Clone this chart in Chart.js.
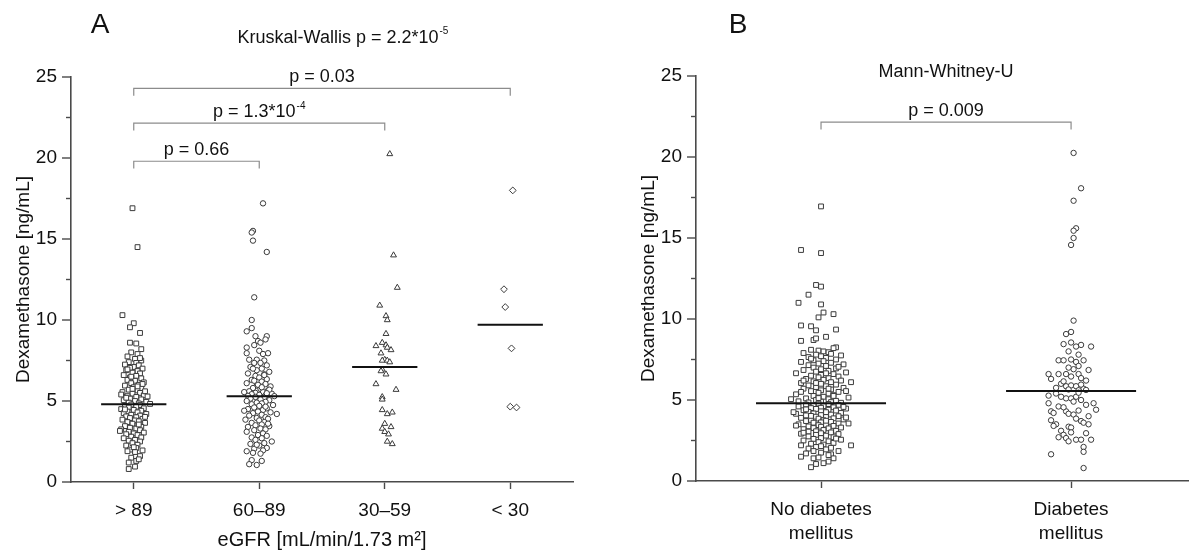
<!DOCTYPE html>
<html><head><meta charset="utf-8">
<script src="https://cdn.jsdelivr.net/npm/chart.js@4.4.1/dist/chart.umd.min.js"></script>
<style>
html,body{margin:0;padding:0;background:#fff;}
body{width:1193px;height:552px;overflow:hidden;position:relative;}
.p{position:absolute;top:0;}
</style></head><body>
<div class="p" style="left:0"><canvas id="cA" width="596" height="552"></canvas></div>
<div class="p" style="left:596px"><canvas id="cB" width="597" height="552"></canvas></div>
<script>
// ---------------- data ----------------
const catsA = ['> 89', '60–89', '30–59', '< 30'];
const catsB = [['No diabetes', 'mellitus'], ['Diabetes', 'mellitus']];
const yTicks = [0, 2.5, 5, 7.5, 10, 12.5, 15, 17.5, 20, 22.5, 25];
const yMax = 25;

// [horizontal jitter (category units), dexamethasone ng/mL]
const egfrGt89 = [
[-0.01,16.9],[0.03,14.5],[-0.09,10.3],[0.0,9.8],[-0.03,9.55],[0.05,9.2],[-0.03,8.6],[0.02,8.55],[0.06,8.2],[-0.02,8.0],
[0.03,7.9],[-0.05,7.75],[0.01,7.6],[0.06,7.5],[-0.04,7.4],[0.02,7.35],[-0.07,7.25],[0.04,7.2],[0.0,7.1],[-0.03,7.05],
[0.07,7.0],[-0.06,6.9],[0.03,6.85],[-0.01,6.75],[0.05,6.7],[-0.08,6.6],[0.02,6.55],[-0.03,6.45],[0.06,6.4],[-0.05,6.3],
[0.01,6.25],[0.08,6.15],[-0.02,6.1],[0.04,6.0],[-0.07,5.95],[0.0,5.85],[0.06,5.8],[-0.04,5.7],[0.03,5.65],[-0.09,5.55],
[0.05,5.5],[-0.01,5.45],[0.08,5.35],[-0.05,5.3],[0.02,5.25],[-0.03,5.15],[0.06,5.1],[-0.08,5.05],[0.01,5.0],[0.1,4.95],
[-0.04,4.9],[0.04,4.85],[0.13,4.82],[-0.06,5.2],[0.09,5.6],[-0.02,6.5],[0.07,6.05],[-0.1,5.4],[0.03,5.9],[-0.05,6.95],
[0.05,7.65],[-0.01,5.75],[0.11,5.28],
[-0.02,4.78],[0.05,4.75],[-0.07,4.7],[0.02,4.65],[-0.04,4.6],[0.08,4.55],[-0.1,4.5],[0.0,4.45],[0.06,4.4],[-0.05,4.35],
[0.03,4.3],[-0.08,4.25],[0.1,4.2],[-0.02,4.15],[0.05,4.1],[-0.06,4.05],[0.02,4.0],[-0.03,3.95],[0.07,3.9],[-0.09,3.85],
[0.01,3.8],[0.04,3.75],[-0.05,3.7],[0.09,3.65],[-0.01,3.6],[0.03,3.5],[-0.07,3.45],[0.06,3.4],[-0.03,3.35],[0.02,3.3],
[-0.1,3.25],[0.05,3.2],[-0.04,3.1],[0.08,3.05],[0.0,3.0],[-0.06,2.95],[0.03,2.9],[-0.02,2.8],[0.06,2.75],[-0.08,2.7],
[0.01,2.6],[-0.04,2.55],[0.05,2.5],[-0.01,2.4],[0.03,2.3],[-0.06,2.25],[0.02,2.1],[-0.03,2.0],[0.07,1.95],[-0.05,1.9],
[0.01,1.85],[0.05,1.6],[-0.02,1.5],[0.02,1.3],[-0.04,1.2],[0.01,0.95],[-0.04,0.8],[0.04,3.55],[-0.07,4.48],[0.09,4.02],
[-0.11,3.15],[0.0,2.15],[0.04,1.4]
];
const egfr60to89 = [
[0.03,17.2],[-0.05,15.5],[-0.06,15.4],[-0.05,14.9],[0.06,14.2],[-0.04,11.4],[-0.06,10.0],[-0.06,9.5],[-0.1,9.3],[-0.03,9.0],
[0.06,9.0],[0.05,8.8],[-0.01,8.7],[0.01,8.6],[-0.04,8.45],[-0.1,8.3],[0.0,8.1],[0.07,7.95],[-0.1,7.95],[0.03,7.9],
[-0.08,7.55],[-0.02,7.55],[0.04,7.5],[0.01,7.35],[-0.04,7.35],[0.06,7.2],[-0.07,7.1],[0.02,7.0],[-0.02,6.9],[0.08,6.8],
[-0.09,6.7],[0.04,6.65],[-0.03,6.55],[0.0,6.45],[0.06,6.35],[-0.06,6.3],[0.02,6.2],[-0.1,6.1],[0.05,6.05],[-0.02,5.95],
[0.09,5.9],[-0.05,5.8],[0.01,5.75],[0.07,5.65],[-0.08,5.6],[0.03,5.55],[-0.03,5.5],[0.1,5.45],[-0.06,5.42],[0.0,5.38],
[0.05,5.35],[-0.09,5.32],[0.12,5.3],[-0.01,6.0],[0.04,6.6],[-0.05,7.0],[0.08,5.7],[-0.12,5.55],[0.02,5.85],[-0.04,6.25],
[0.06,5.48],
[-0.03,5.25],[0.04,5.2],[-0.07,5.15],[0.01,5.1],[0.08,5.05],[-0.1,5.0],[0.05,4.95],[-0.02,4.9],[0.02,4.85],[-0.06,4.8],
[0.11,4.75],[0.0,4.7],[-0.04,4.6],[0.06,4.55],[-0.09,4.5],[0.03,4.45],[-0.01,4.35],[0.09,4.3],[-0.05,4.25],[0.14,4.2],
[0.02,4.15],[-0.08,4.1],[0.05,4.0],[-0.02,3.95],[0.07,3.9],[-0.11,3.85],[0.0,3.8],[0.04,3.7],[-0.06,3.65],[0.02,3.55],
[-0.03,3.5],[0.08,3.45],[-0.09,3.4],[0.01,3.3],[0.05,3.25],[-0.04,3.2],[-0.1,3.1],[0.03,3.0],[-0.01,2.9],[0.06,2.85],
[-0.06,2.75],[0.02,2.7],[-0.03,2.6],[0.1,2.5],[0.04,2.4],[-0.07,2.35],[0.0,2.25],[0.06,2.1],[-0.04,2.05],[0.03,1.95],
[-0.1,1.9],[-0.05,1.8],[0.01,1.75],[-0.06,1.35],[0.02,1.3],[-0.08,1.1],[-0.02,1.05],[0.05,4.65],[-0.12,4.4],[0.07,3.6],
[-0.02,2.3]
];
const egfr30to59 = [
[0.04,20.25],[0.07,14.0],[0.1,12.0],[-0.04,10.9],[0.01,10.25],[0.02,10.0],[0.01,9.15],[-0.02,8.6],[0.01,8.45],[-0.07,8.4],
[0.02,8.3],[0.05,8.15],[-0.03,7.95],[0.0,7.55],[-0.02,7.5],[0.02,7.5],[0.04,7.4],[-0.02,6.95],[-0.03,6.85],[0.01,6.65],
[-0.07,6.05],[0.09,5.7],[-0.02,5.25],[-0.02,5.1],[-0.02,4.45],[0.02,4.2],[0.06,4.3],[0.0,3.6],[0.05,3.4],[-0.02,3.3],
[0.0,3.1],[0.03,2.95],[0.02,2.5],[0.06,2.35]
];
const egfrLt30 = [[0.02,18.0],[-0.05,11.9],[-0.04,10.8],[0.01,8.25],[0.0,4.65],[0.05,4.6]];
const mediansA = [4.8, 5.3, 7.1, 9.7];

const noDiabetes = [
[0.0,16.95],[-0.08,14.26],[0.0,14.07],[-0.02,12.1],[0.0,12.0],[-0.05,11.5],[-0.09,11.0],[0.0,10.9],[-0.01,10.1],[0.01,10.4],
[0.05,10.3],[-0.08,9.6],[-0.04,9.55],[-0.02,9.3],[0.06,9.35],[-0.08,8.65],[-0.03,8.7],[-0.02,8.8],[0.02,8.9],[0.06,8.25],
[0.05,8.2],[-0.04,8.1],[-0.01,8.05],[0.01,8.0],[0.03,7.95],[-0.07,7.9],[0.04,7.85],[-0.02,7.8],[0.08,7.75],[0.0,7.7],
[-0.05,7.65],[0.02,7.6],[0.06,7.5],[-0.03,7.45],[0.01,7.4],[-0.08,7.35],[0.04,7.3],[-0.01,7.25],[0.09,7.2],[-0.05,7.15],
[0.02,7.1],[-0.03,7.0],[0.06,6.95],[0.0,6.9],[-0.07,6.85],[0.03,6.8],[-0.02,6.75],[0.1,6.7],[-0.1,6.65],[0.05,6.6],
[0.0,6.55],[-0.04,6.5],[0.07,6.45],[-0.01,6.4],[0.03,6.35],[-0.06,6.3],[0.01,6.25],[0.08,6.2],[-0.03,6.15],[0.04,6.1],
[-0.08,6.05],[0.0,6.0],[0.06,5.95],[-0.05,5.9],[0.02,5.85],[-0.02,5.8],[0.09,5.75],[-0.07,5.7],[0.04,5.65],[0.0,5.6],
[-0.04,5.55],[0.07,5.5],[-0.01,5.45],[0.03,5.4],[-0.1,5.35],[0.05,5.3],[-0.03,5.25],[0.01,5.2],[0.11,5.15],[-0.06,5.1],
[0.03,5.05],[-0.02,5.0],[0.06,4.95],[-0.09,4.92],[0.0,4.9],[0.04,4.87],[-0.05,4.85],[0.08,4.83],[-0.12,5.05],[0.1,5.55],
[-0.07,6.2],[0.02,6.65],[0.07,7.05],[-0.04,7.55],[0.03,5.7],[-0.02,6.05],[0.05,5.25],[-0.08,5.5],[0.12,6.1],[-0.01,5.12],
[-0.01,4.78],[0.03,4.75],[-0.06,4.72],[0.07,4.7],[-0.03,4.65],[0.01,4.62],[-0.09,4.6],[0.05,4.55],[0.0,4.52],[-0.04,4.5],
[0.1,4.47],[-0.02,4.45],[0.03,4.4],[-0.07,4.37],[0.06,4.35],[0.0,4.3],[-0.05,4.27],[0.02,4.25],[0.08,4.2],[-0.03,4.17],
[-0.1,4.15],[0.04,4.1],[0.0,4.07],[-0.06,4.05],[0.07,4.0],[-0.02,3.97],[0.02,3.95],[-0.08,3.9],[0.05,3.87],[-0.01,3.85],
[0.09,3.8],[-0.04,3.77],[0.01,3.75],[-0.06,3.7],[0.04,3.65],[0.0,3.62],[-0.03,3.6],[0.07,3.55],[-0.09,3.5],[0.02,3.47],
[-0.01,3.45],[0.05,3.4],[-0.05,3.37],[0.0,3.35],[0.08,3.3],[-0.03,3.27],[0.03,3.25],[-0.07,3.2],[0.01,3.15],[0.06,3.1],
[-0.02,3.07],[-0.05,3.05],[0.04,3.0],[0.0,2.95],[-0.08,2.92],[0.07,2.9],[-0.02,2.85],[0.02,2.8],[-0.05,2.75],[0.05,2.7],
[0.0,2.65],[-0.03,2.6],[0.08,2.55],[-0.07,2.5],[0.03,2.45],[-0.01,2.4],[0.05,2.35],[-0.04,2.3],[0.01,2.25],[0.12,2.2],
[-0.08,2.2],[-0.02,2.1],[0.04,2.05],[-0.05,2.0],[0.02,1.95],[0.07,1.85],[-0.03,1.85],[0.0,1.75],[-0.06,1.7],[0.04,1.65],
[-0.08,1.5],[-0.03,1.4],[-0.01,1.45],[0.05,1.4],[0.03,1.2],[-0.02,1.05],[-0.04,0.85],[0.01,1.1],[-0.06,4.42],[0.1,3.92],
[-0.1,3.42],[0.06,2.62],[-0.04,4.02],[0.02,3.72],[0.09,4.57],[-0.07,2.98],[0.11,3.55],[-0.11,4.25],[0.0,2.15],[0.03,1.6]
];
const diabetes = [
[0.01,20.25],[0.04,18.07],[0.01,17.3],[0.02,15.6],[0.01,15.45],[0.01,15.0],[0.0,14.57],[0.01,9.9],[0.0,9.2],[-0.02,9.07],
[-0.03,8.45],[0.0,8.55],[0.02,8.3],[0.04,8.4],[0.08,8.3],[-0.01,8.0],[0.03,7.8],[-0.05,7.45],[-0.03,7.45],[0.0,7.5],
[0.02,7.35],[0.05,7.45],[0.03,7.1],[-0.09,6.6],[-0.08,6.3],[-0.05,6.6],[-0.02,6.6],[0.03,6.6],[0.04,6.35],[0.06,6.2],
[-0.04,6.0],[-0.02,5.85],[0.0,5.9],[0.02,5.85],[0.05,5.7],[-0.06,5.75],[0.01,6.9],[-0.01,7.0],[0.07,6.85],[0.04,5.95],
[-0.03,6.15],[0.06,5.62],[-0.01,5.65],[0.03,5.6],[0.0,6.45],
[-0.09,5.27],[-0.06,5.4],[-0.04,5.2],[-0.02,5.1],[0.0,5.1],[0.02,5.2],[0.04,5.0],[-0.09,4.8],[0.09,4.8],[0.1,4.4],
[-0.08,4.3],[-0.07,4.2],[-0.02,4.3],[-0.01,4.15],[0.01,4.1],[0.03,4.35],[-0.08,3.75],[-0.06,3.5],[-0.07,3.4],[-0.01,3.35],
[0.0,3.3],[0.04,3.7],[0.05,3.6],[0.07,3.5],[-0.04,3.1],[-0.03,2.85],[-0.02,2.65],[0.0,3.0],[0.02,2.55],[0.04,2.55],
[0.08,2.55],[0.06,2.95],[0.05,2.1],[0.05,1.8],[-0.08,1.65],[0.05,0.8],[-0.05,4.6],[0.01,4.9],[-0.03,4.55],[0.06,4.7],
[-0.05,2.7],[0.02,3.85],[0.03,5.45],[-0.01,2.45],[0.07,4.0]
];
const mediansB = [4.8, 5.55];

// significance brackets
const bracketFromA = [0, 0, 0];
const bracketToA = [1, 2, 3];
const bracketYA = [19.8, 22.15, 24.3];
const bracketTextA = ['p = 0.66', 'p = 1.3*10', 'p = 0.03'];
const bracketSupA = ['', '-4', ''];
const bracketFromB = [0];
const bracketToB = [1];
const bracketYB = [22.15];
const bracketTextB = ['p = 0.009'];
const bracketSupB = [''];

// ---------------- drawing ----------------
const FONT = "'Liberation Sans', Arial, sans-serif";
const AX = '#4a4a4a';
const TXT = '#111111';
const MK = '#3a3a3a';
const MEDIAN_HALF = 0.26;
const BRACKET_DROP = 0.45;

function pointsDs(arr, ci, style, radius) {
  return {
    data: arr.map(([dx, v]) => ({x: ci + dx, y: v})),
    pointStyle: style, pointRadius: radius, pointHoverRadius: radius,
    pointBackgroundColor: '#ffffff', pointBorderColor: MK, pointBorderWidth: 1,
    showLine: false, order: 2
  };
}
function medianDs(m, ci) {
  return {
    data: [{x: ci - MEDIAN_HALF, y: m}, {x: ci + MEDIAN_HALF, y: m}],
    showLine: true, borderColor: '#111', borderWidth: 2, pointRadius: 0, order: 0
  };
}
function bracketDs(f, t, yv) {
  return {
    data: [{x: f, y: yv - BRACKET_DROP}, {x: f, y: yv}, {x: t, y: yv}, {x: t, y: yv - BRACKET_DROP}],
    showLine: true, borderColor: '#8c8c8c', borderWidth: 1.2, pointRadius: 0, order: 1, clip: false
  };
}

function drawRich(ctx, cx, baseY, main, sup, size) {
  ctx.save();
  ctx.fillStyle = TXT;
  ctx.textBaseline = 'alphabetic';
  ctx.textAlign = 'left';
  ctx.font = size + 'px ' + FONT;
  const w1 = ctx.measureText(main).width;
  const ss = Math.round(size * 0.58);
  ctx.font = ss + 'px ' + FONT;
  const w2 = sup ? ctx.measureText(sup).width + 1 : 0;
  const x0 = cx - (w1 + w2) / 2;
  ctx.font = size + 'px ' + FONT;
  ctx.fillText(main, x0, baseY);
  if (sup) {
    ctx.font = ss + 'px ' + FONT;
    ctx.fillText(sup, x0 + w1 + 1, baseY - size * 0.48);
  }
  ctx.restore();
}

function panelPlugin(cfg) {
  return {
    id: 'panel' + cfg.letter,
    afterDraw(chart) {
      const {ctx} = chart;
      const x = chart.scales.x, y = chart.scales.y;
      // y ticks: major every 5, minor every 2.5
      ctx.save();
      ctx.strokeStyle = AX; ctx.lineWidth = 1.4;
      yTicks.forEach(v => {
        const py = y.getPixelForValue(v);
        const len = (v % 5 === 0) ? 9 : 5;
        ctx.beginPath(); ctx.moveTo(x.left, py); ctx.lineTo(x.left - len, py); ctx.stroke();
      });
      ctx.restore();
      // panel letter
      ctx.save();
      ctx.font = '28px ' + FONT; ctx.fillStyle = TXT; ctx.textAlign = 'center'; ctx.textBaseline = 'alphabetic';
      ctx.fillText(cfg.letter, cfg.letterX, 33);
      ctx.restore();
      // test title
      const tx = cfg.titleX != null ? cfg.titleX : x.getPixelForValue(cfg.titleAt);
      drawRich(ctx, tx, cfg.titleY, cfg.title, cfg.titleSup, 18);
      // bracket labels
      cfg.bFrom.forEach((f, i) => {
        const cx = (x.getPixelForValue(f) + x.getPixelForValue(cfg.bTo[i])) / 2;
        const by = y.getPixelForValue(cfg.bY[i]) - 6;
        drawRich(ctx, cx, by, cfg.bText[i], cfg.bSup[i], 18);
      });
    }
  };
}

function makeChart(id, o) {
  const datasets = [];
  o.meds.forEach((m, i) => datasets.push(medianDs(m, i)));
  o.bFrom.forEach((f, i) => datasets.push(bracketDs(f, o.bTo[i], o.bY[i])));
  o.groups.forEach((g, i) => datasets.push(pointsDs(g.data, i, g.style, g.r)));
  return new Chart(document.getElementById(id), {
    type: 'scatter',
    data: {datasets},
    options: {
      responsive: false, animation: false, events: [],
      layout: {padding: {left: 0, right: o.padRight, top: o.top, bottom: 0}},
      plugins: {legend: {display: false}, tooltip: {enabled: false}},
      scales: {
        x: {
          type: 'linear', min: -0.5, max: o.xMax,
          afterBuildTicks: s => { s.ticks = o.cats.map((c, i) => ({value: i})); },
          afterFit: s => { s.height = o.xAxisH; },
          ticks: {
            autoSkip: false, maxRotation: 0, padding: o.xTickPad, color: TXT,
            font: {family: FONT, size: 19, lineHeight: 1.25},
            callback: v => o.cats[Math.round(v)]
          },
          grid: {drawOnChartArea: false, drawTicks: true, tickLength: 7, color: AX, tickColor: AX, tickWidth: 1.4},
          border: {display: true, color: AX, width: 1.6},
          title: {display: !!o.xTitle, text: o.xTitle, color: TXT, font: {family: FONT, size: 20}, padding: {top: 0, bottom: 0}}
        },
        y: {
          type: 'linear', min: 0, max: yMax,
          afterBuildTicks: s => { s.ticks = yTicks.map(v => ({value: v})); },
          afterFit: s => { s.width = o.yAxisW; },
          ticks: {
            padding: 14, color: TXT, font: {family: FONT, size: 19},
            callback: v => (v % 5 === 0 ? String(v) : '')
          },
          grid: {drawOnChartArea: false, drawTicks: false, color: AX},
          border: {display: true, color: AX, width: 1.6},
          title: {display: true, text: 'Dexamethasone [ng/mL]', color: TXT, font: {family: FONT, size: 19}, padding: {top: o.yTitlePad, bottom: 0}}
        }
      }
    },
    plugins: [panelPlugin(o.panel)]
  });
}

makeChart('cA', {
  cats: catsA, xMax: 3.5, padRight: 23, top: 77, xAxisH: 70, yAxisW: 71, xTickPad: 10, yTitlePad: 12,
  xTitle: 'eGFR [mL/min/1.73 m²]',
  meds: mediansA,
  bFrom: bracketFromA, bTo: bracketToA, bY: bracketYA,
  groups: [
    {data: egfrGt89, style: 'rect', r: 3.4},
    {data: egfr60to89, style: 'circle', r: 2.7},
    {data: egfr30to59, style: 'triangle', r: 3.4},
    {data: egfrLt30, style: 'rectRot', r: 3.4}
  ],
  panel: {letter: 'A', letterX: 100, title: 'Kruskal-Wallis p = 2.2*10', titleSup: '-5', titleX: 343, titleY: 43,
          bFrom: bracketFromA, bTo: bracketToA, bY: bracketYA, bText: bracketTextA, bSup: bracketSupA}
});

makeChart('cB', {
  cats: catsB, xMax: 1.47, padRight: 3, top: 76, xAxisH: 71, yAxisW: 100, xTickPad: 10, yTitlePad: 41,
  xTitle: '',
  meds: mediansB,
  bFrom: bracketFromB, bTo: bracketToB, bY: bracketYB,
  groups: [
    {data: noDiabetes, style: 'rect', r: 3.4},
    {data: diabetes, style: 'circle', r: 2.7}
  ],
  panel: {letter: 'B', letterX: 142, title: 'Mann-Whitney-U', titleSup: '', titleAt: 0.5, titleY: 77,
          bFrom: bracketFromB, bTo: bracketToB, bY: bracketYB, bText: bracketTextB, bSup: bracketSupB}
});
</script>
</body></html>
